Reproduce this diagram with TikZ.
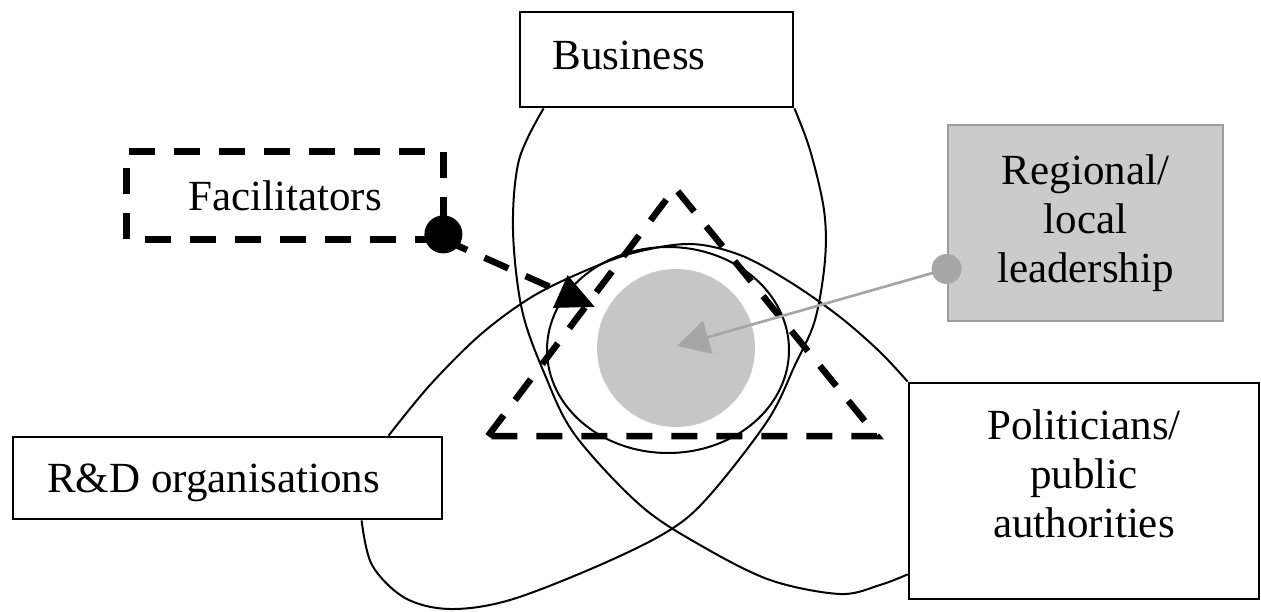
\documentclass[tikz,border=0pt]{standalone}
\usepackage{fontspec}
\setmainfont{Liberation Serif}
\usetikzlibrary{arrows.meta,calc}
\definecolor{lgray}{HTML}{C6C6C6}
\definecolor{mgray}{HTML}{A6A6A6}
\definecolor{bgray}{HTML}{CBCBCB}
\definecolor{bdgray}{HTML}{9C9C9C}
\begin{document}
\begin{tikzpicture}[x=1pt,y=-1pt,
  box/.style={draw=black, line width=2.8pt, fill=white, rectangle, inner sep=0pt},
  lbl/.style={font=\fontsize{43}{49}\selectfont, align=center, inner sep=0pt},
  loop/.style={line width=2pt, line join=round},
  dsh/.style={line width=6.5pt, dash pattern=on 26pt off 19pt},
]
\useasboundingbox (0,0) rectangle (1261,612);

% central shaded disc
\fill[lgray] (676,348) circle (79);

% boxes
\node[box, minimum width=273, minimum height=95] (bus) at (656.5,59.5) {};
\node[box, draw=none, fill=none, minimum width=314, minimum height=85] (fac) at (285,195.5) {};
\draw[dsh] (fac.south west) rectangle (fac.north east);
\node[box, fill=bgray, draw=bdgray, minimum width=275, minimum height=196] (reg) at (1085.5,223) {};
\node[box, minimum width=350, minimum height=216] (pol) at (1084,491) {};
\node[box, minimum width=429, minimum height=82] (rd) at (227.5,478) {};

% texts
\node[lbl] (bust) at (629,55) {Business};
\node[lbl] (fact) at (fac.center) {Facilitators};
\node[lbl] (regt) at (reg.center) {Regional/\\local\\leadership};
\node[lbl] (polt) at (1084,473.5) {Politicians/\\public\\authorities};
\node[lbl] (rdt) at (213.5,483) {R\&D organisations};

% loop end points
\coordinate (c1a) at ($(bus.south west)+(25,0)$);
\coordinate (c1b) at ($(pol.south west)+(0,-26)$);
\coordinate (c2a) at (bus.south east);
\coordinate (c2b) at ($(rd.south west)+(350,0)$);
\coordinate (c3a) at ($(rd.north west)+(377,0)$);
\coordinate (c3b) at (pol.north west);

% loops
\draw[loop] plot[smooth, tension=0.55] coordinates {(c1a) (519,160) (513,230) (522,310) (545,375) (575,435) (640,505) (700,545) (770,580) (840,594) (880,585) (c1b)};
\draw[loop] plot[smooth, tension=0.55] coordinates {(c2a) (810,150) (824,210) (825,260) (815,320) (795,365) (768,420) (710,495) (670,530) (600,565) (510,600) (450,609) (405,598) (372,565) (c2b)};
\draw[loop] plot[smooth, tension=0.55] coordinates {(c3a) (430,385) (480,335) (530,298) (580,273) (633,253) (690,244) (740,255) (790,282) (840,317) (880,352) (c3b)};

% inner ellipse
\draw[loop] (668,350) ellipse [x radius=121, y radius=103];

% dashed triangle
\coordinate (tl) at (488,436);
\coordinate (tt) at (675,188);
\coordinate (tr) at (877,436);
\draw[dsh, line join=miter] (tl) -- (tt) -- (tr) -- cycle;

% leadership arrow
\coordinate (regdot) at ($(reg.west)+(0,46)$);
\coordinate (leadtip) at (677,346);
\draw[mgray, line width=2.7pt, -{Triangle[length=32pt,width=34pt]}] (regdot) -- (leadtip);
\fill[mgray] (regdot) circle (15);

% facilitators arrow
\coordinate (factip) at (595,307);
\draw[dsh, -{Triangle[length=38pt,width=34pt]}] (fac.south east) -- (factip);
\fill ($(fac.south east)+(0,-5)$) circle (19);
\end{tikzpicture}
\end{document}
